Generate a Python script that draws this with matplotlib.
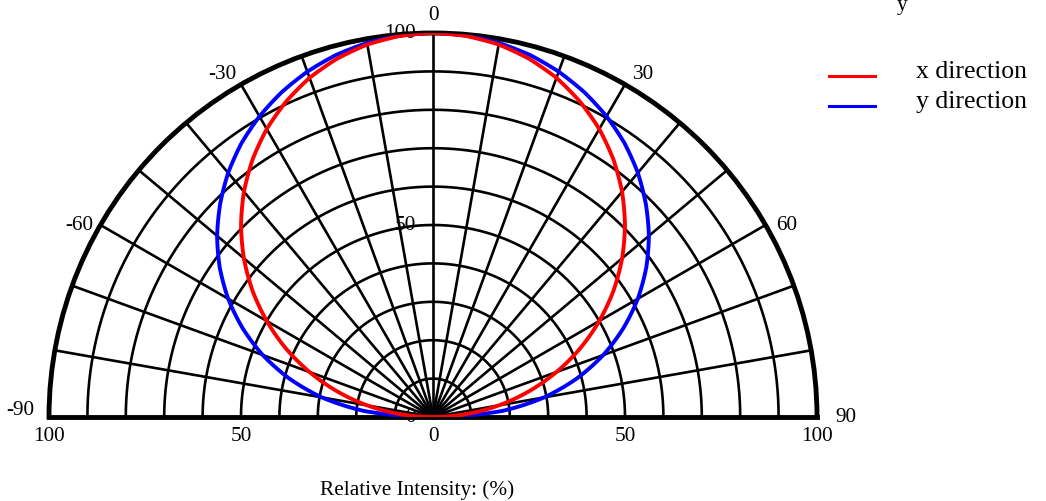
import numpy as np
import matplotlib
matplotlib.use("Agg")
import matplotlib.pyplot as plt
from matplotlib.lines import Line2D
from matplotlib.transforms import offset_copy

plt.rcParams['font.family'] = ['Liberation Serif', 'DejaVu Serif']

# ---- data ----
angles_deg = [-90, -85, -80, -75, -70, -65, -60, -55, -50, -45, -40, -35, -30, -25, -20, -15, -10, -5,
              0, 5, 10, 15, 20, 25, 30, 35, 40, 45, 50, 55, 60, 65, 70, 75, 80, 85, 90]
x_direction = [0, 8.7, 17.4, 25.9, 34.2, 42.3, 50, 57.4, 64.3, 70.7, 76.6, 81.9, 86.6, 90.6, 94, 96.6, 98.5, 99.6,
               100, 99.6, 98.5, 96.6, 94, 90.6, 86.6, 81.9, 76.6, 70.7, 64.3, 57.4, 50, 42.3, 34.2, 25.9, 17.4, 8.7, 0]
y_direction = [0, 18.1, 29.4, 38.8, 47.2, 54.7, 61.6, 67.8, 73.4, 78.4, 83.0, 87.0, 90.4, 93.3, 95.7, 97.6, 98.9, 99.7,
               100, 99.7, 98.9, 97.6, 95.7, 93.3, 90.4, 87.0, 83.0, 78.4, 73.4, 67.8, 61.6, 54.7, 47.2, 38.8, 29.4, 18.1, 0]
series_names = ['x direction', 'y direction']
series_colors = ['#ff0000', '#0000ff']

angle_labels = [-90, -60, -30, 0, 30, 60, 90]
radial_labels = [0, 50, 100]
bottom_labels = ['100', '50', '0', '50', '100']
bottom_values = [-100, -50, 0, 50, 100]
grid_angles = list(range(-80, 90, 10))
grid_radii = list(range(10, 100, 10))

# ---- figure ----
W, H = 1046, 502
fig = plt.figure(figsize=(W / 100, H / 100), dpi=100)
cx, cy, R = 433, 418, 384
# square box: half-disc wedge is centred vertically inside it
ax = fig.add_axes([(cx - R) / W, (H - cy - R / 2) / H, 2 * R / W, 2 * R / H], projection='polar')
ax.set_theta_zero_location('N')
ax.set_theta_direction(-1)
ax.set_thetamin(-90)
ax.set_thetamax(90)
ax.set_rlim(0, 100)
ax.set_xticks([])
ax.set_yticks([])
ax.grid(False)
for name, sp in ax.spines.items():
    if name == 'inner':
        sp.set_visible(False)
    else:
        sp.set_linewidth(3.5)
        sp.set_color('black')

# grid
tt = np.radians(np.linspace(-90, 90, 361))
for r in grid_radii:
    ax.plot(tt, np.full_like(tt, r), color='black', lw=1.9, zorder=2)
for a in grid_angles:
    ax.plot([np.radians(a)] * 2, [0, 100], color='black', lw=1.9, zorder=2)

# curves (polar path interpolation so segments follow theta/r smoothly)
th = np.radians(angles_deg)
for vals, col in [(y_direction, series_colors[1]), (x_direction, series_colors[0])]:
    ln, = ax.plot(th, vals, color=col, lw=2.8, zorder=3, solid_joinstyle='round')
    ln.get_path()._interpolation_steps = 25

fs = 15.3
# angle labels
for a in angle_labels:
    if abs(a) == 90:
        ta, rr = (a + 1 if a < 0 else a), 107.5
    else:
        ta, rr = a + 1.5 * np.sign(a), 104.8
    ax.text(np.radians(ta), rr, str(a), ha='center', va='center', fontsize=fs, clip_on=False)

# radial labels along 0 degrees
tr_left = offset_copy(ax.transData, fig=fig, x=-17, y=0, units='dots')
for r in radial_labels:
    ax.text(0, r, str(r), ha='right', va='center', fontsize=fs, transform=tr_left, zorder=1, clip_on=False)

# bottom labels
tr_down = offset_copy(ax.transData, fig=fig, x=0, y=-19, units='dots')
for v, lab in zip(bottom_values, bottom_labels):
    ax.text(np.radians(90 if v >= 0 else -90), abs(v), lab, ha='center', va='center',
            fontsize=fs, transform=tr_down, clip_on=False)

fig.text(417 / W, 1 - 490 / H, 'Relative Intensity: (%)', ha='center', va='center', fontsize=fs)

# legend
fig.text(902 / W, 1 - 10 / H, 'y', ha='center', va='baseline', fontsize=fs)
leg_y = [77, 107]
for name, col, yy in zip(series_names, series_colors, leg_y):
    fig.add_artist(Line2D([829 / W, 875 / W], [1 - yy / H] * 2, color=col, lw=2.2, transform=fig.transFigure))
    fig.text(916 / W, 1 - (yy - 5) / H, name, ha='left', va='center', fontsize=18.5)

fig.savefig('out.png', dpi=100)
